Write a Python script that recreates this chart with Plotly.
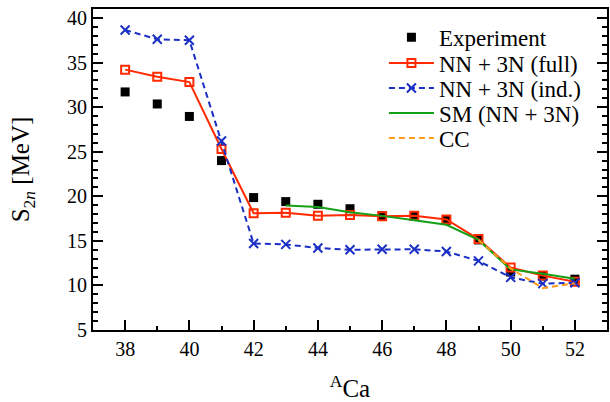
import plotly.graph_objects as go

A_all = [38, 39, 40, 41, 42, 43, 44, 45, 46, 47, 48, 49, 50, 51, 52]
exp_vals = [31.7, 30.35, 28.95, 24.0, 19.85, 19.4, 19.1, 18.6, 17.8, 17.75, 17.3, 15.1, 11.5, 11.05, 10.7]
full_vals = [34.2, 33.4, 32.8, 25.3, 18.1, 18.15, 17.8, 17.9, 17.75, 17.8, 17.4, 15.2, 12.0, 11.1, 10.4]
ind_vals = [38.65, 37.6, 37.5, 26.2, 14.7, 14.6, 14.2, 14.0, 14.05, 14.05, 13.8, 12.75, 10.9, 10.2, 10.3]
A_sm = [43, 44, 45, 46, 47, 48, 49, 50, 51, 52]
sm_vals = [18.95, 18.8, 18.2, 17.8, 17.3, 16.8, 15.1, 11.8, 11.3, 10.75]
A_cc = [49, 50, 51, 52]
cc_vals = [15.1, 11.9, 9.7, 10.25]
x_major = [38, 40, 42, 44, 46, 48, 50, 52]
x_minor = [39, 41, 43, 45, 47, 49, 51]
y_major = [5, 10, 15, 20, 25, 30, 35, 40]
series_names = ["Experiment", "NN + 3N (full)", "NN + 3N (ind.)", "SM (NN + 3N)", "CC"]

FONT = "Times New Roman, Liberation Serif, serif"
legend_ids = ["legend", "legend2", "legend3", "legend4", "legend5"]

fig = go.Figure()
fig.add_trace(go.Scatter(x=A_all, y=exp_vals, mode="markers", name=series_names[0],
                         legend=legend_ids[0],
                         marker=dict(symbol="square", size=9, color="black")))
fig.add_trace(go.Scatter(x=A_all, y=full_vals, mode="lines+markers", name=series_names[1],
                         legend=legend_ids[1],
                         line=dict(color="#FF2A00", width=2),
                         marker=dict(symbol="square-open", size=8, color="#FF2A00",
                                     line=dict(width=2, color="#FF2A00"))))
fig.add_trace(go.Scatter(x=A_all, y=ind_vals, mode="lines+markers", name=series_names[2],
                         legend=legend_ids[2],
                         line=dict(color="#1B2FC4", width=2, dash="6px,4px"),
                         marker=dict(symbol="x-thin", size=9, color="#1B2FC4",
                                     line=dict(width=2, color="#1B2FC4"))))
fig.add_trace(go.Scatter(x=A_sm, y=sm_vals, mode="lines", name=series_names[3],
                         legend=legend_ids[3],
                         line=dict(color="#14A014", width=2)))
fig.add_trace(go.Scatter(x=A_cc, y=cc_vals, mode="lines", name=series_names[4],
                         legend=legend_ids[4],
                         line=dict(color="#FF9A1A", width=2, dash="6px,4px")))

legend_rows_y = [0.912, 0.8318, 0.7539, 0.6760, 0.5981]
layout_legends = {}
for lid, ly in zip(legend_ids, legend_rows_y):
    layout_legends[lid] = dict(x=0.566, y=ly, xanchor="left", yanchor="middle",
                               bgcolor="rgba(0,0,0,0)", font=dict(family=FONT, size=23),
                               itemwidth=45, tracegroupgap=0)

fig.update_layout(
    width=610, height=402,
    margin=dict(l=93, r=1, t=9, b=72),
    paper_bgcolor="white", plot_bgcolor="white",
    font=dict(family=FONT, size=20, color="black"),
    showlegend=True,
    **layout_legends,
)
fig.update_xaxes(
    range=[37, 53], tickmode="array", tickvals=x_major,
    ticks="inside", ticklen=10, tickwidth=2, tickcolor="black",
    minor=dict(tickmode="array", tickvals=x_minor, ticks="inside",
               ticklen=4, tickwidth=1.5, tickcolor="black"),
    showline=True, linewidth=2, linecolor="black", mirror=True,
    showgrid=False, zeroline=False,
    tickfont=dict(family=FONT, size=20),
    title=dict(text="<sup>A</sup>Ca", font=dict(family=FONT, size=25), standoff=22),
)
fig.update_yaxes(
    range=[5, 41], tickmode="array", tickvals=y_major,
    ticks="inside", ticklen=10, tickwidth=2, tickcolor="black",
    minor=dict(dtick=1, ticks="inside", ticklen=5, tickwidth=1.5, tickcolor="black"),
    showline=True, linewidth=2, linecolor="black", mirror="ticks",
    showgrid=False, zeroline=False,
    tickfont=dict(family=FONT, size=20),
    title=dict(text="S<sub>2<i>n</i></sub> [MeV]", font=dict(family=FONT, size=25), standoff=30),
)

fig.write_html("out.html", config={"displayModeBar": False},
               post_script="document.body.style.margin='0';document.body.style.overflow='hidden';")
